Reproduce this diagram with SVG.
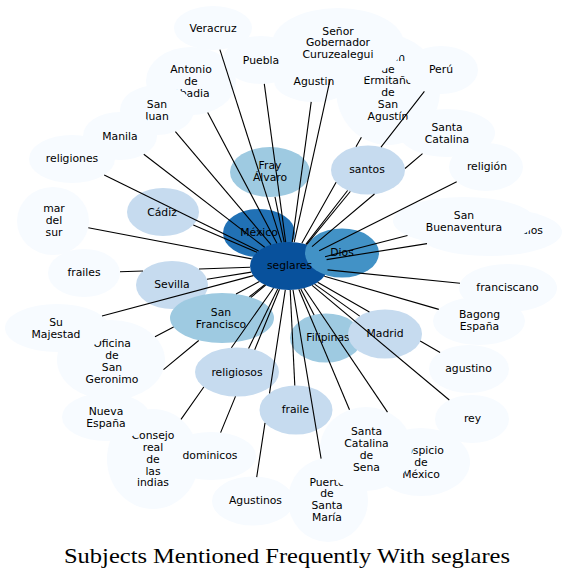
<svg xmlns="http://www.w3.org/2000/svg" width="566" height="578" viewBox="0 0 566 578">
<style>
.l{fill:#f7fbff}
.b1{fill:#c6dbef}
.b2{fill:#9ecae1}
.b3{fill:#4292c6}
.b4{fill:#2171b5}
.b5{fill:#08519c}
text{font-family:"DejaVu Sans","Noto Sans",sans-serif;font-size:10.8px;fill:#000;text-anchor:middle}
.e path{fill:none;stroke:#000;stroke-width:1.1}
.title{font-family:"Liberation Serif","Times New Roman",serif;font-size:22px}
</style>
<rect width="566" height="578" fill="#fff"/>
<g id="nodes">
<g id="n-veracruz"><ellipse class="l" cx="213" cy="28" rx="39" ry="22"/><text x="213" y="31.8">Veracruz</text></g>
<g id="n-puebla"><ellipse class="l" cx="261" cy="60" rx="38" ry="24"/><text x="261" y="63.8">Puebla</text></g>
<g id="n-antonio"><ellipse class="l" cx="191" cy="81" rx="45" ry="34"/><text x="191" y="73"><tspan x="191">Antonio</tspan><tspan x="191" dy="11.8">de</tspan><tspan x="191" dy="11.8">Abadia</tspan></text></g>
<g id="n-ermitano"><ellipse class="l" cx="388" cy="90" rx="52" ry="55"/><text x="388" y="60.8"><tspan x="388">Martín</tspan><tspan x="388" dy="11.8">de</tspan><tspan x="388" dy="11.8">Ermitaño</tspan><tspan x="388" dy="11.8">de</tspan><tspan x="388" dy="11.8">San</tspan><tspan x="388" dy="11.8">Agustín</tspan></text></g>
<g id="n-senor"><ellipse class="l" cx="338" cy="44" rx="66" ry="36"/><text x="338" y="34.5"><tspan x="338">Señor</tspan><tspan x="338" dy="11.8">Gobernador</tspan><tspan x="338" dy="11.8">Curuzealegui</tspan></text></g>
<g id="n-consejo"><ellipse class="l" cx="153" cy="459" rx="46" ry="50"/><text x="153" y="439.2"><tspan x="153">Consejo</tspan><tspan x="153" dy="11.8">real</tspan><tspan x="153" dy="11.8">de</tspan><tspan x="153" dy="11.8">las</tspan><tspan x="153" dy="11.8">indias</tspan></text></g>
<g id="n-puerto"><ellipse class="l" cx="328" cy="500" rx="40" ry="42"/><text x="327" y="485.5"><tspan x="327">Puerto</tspan><tspan x="327" dy="11.8">de</tspan><tspan x="327" dy="11.8">Santa</tspan><tspan x="327" dy="11.8">María</tspan></text></g>
<g id="n-hospicio"><ellipse class="l" cx="421" cy="462" rx="49" ry="34"/><text x="421" y="454"><tspan x="421">Hospicio</tspan><tspan x="421" dy="11.8">de</tspan><tspan x="421" dy="11.8">México</tspan></text></g>
<g id="n-indios"><ellipse class="l" cx="489" cy="232" rx="73" ry="24"/><text x="543" y="233.8" style="text-anchor:end">indios</text></g>
<g id="n-mexico"><ellipse class="b4" cx="259" cy="233" rx="36" ry="24"/><text x="259" y="235.8">México</text></g>
<g id="n-fray"><ellipse class="b2" cx="270" cy="172" rx="40" ry="25"/><text x="270" y="168.9"><tspan x="270">Fray</tspan><tspan x="270" dy="11.8">Álvaro</tspan></text></g>
<g id="n-seglares"><ellipse class="b5" cx="289" cy="266" rx="39" ry="24"/></g>
<g id="n-dios"><ellipse class="b3" cx="342" cy="253" rx="37" ry="24.5"/><text x="342" y="255.8">Dios</text></g>
<g id="n-seglares-label"><text x="289.5" y="268.8">seglares</text></g>
<g id="n-agustin"><ellipse class="l" cx="314" cy="81" rx="40" ry="21"/><text x="314" y="84.8">Agustin</text></g>
<g id="n-sanjuan"><ellipse class="l" cx="157" cy="110" rx="37" ry="25"/><text x="157" y="107.9"><tspan x="157">San</tspan><tspan x="157" dy="11.8">Juan</tspan></text></g>
<g id="n-manila"><ellipse class="l" cx="120" cy="136" rx="37" ry="24"/><text x="120" y="139.8">Manila</text></g>
<g id="n-cadiz"><ellipse class="b1" cx="163" cy="212" rx="36" ry="24"/><text x="162" y="215.8">Cádiz</text></g>
<g id="n-religiones"><ellipse class="l" cx="72" cy="159" rx="43" ry="24"/><text x="72" y="161.8">religiones</text></g>
<g id="n-mardelsur"><ellipse class="l" cx="53" cy="221" rx="36" ry="34"/><text x="54" y="212"><tspan x="54">mar</tspan><tspan x="54" dy="11.8">del</tspan><tspan x="54" dy="11.8">sur</tspan></text></g>
<g id="n-frailes"><ellipse class="l" cx="84" cy="273" rx="36" ry="24"/><text x="84" y="275.8">frailes</text></g>
<g id="n-sevilla"><ellipse class="b1" cx="172" cy="285" rx="36" ry="24"/><text x="172" y="287.8">Sevilla</text></g>
<g id="n-nuevaespana"><ellipse class="l" cx="106" cy="417" rx="44" ry="24"/><text x="106" y="414.9"><tspan x="106">Nueva</tspan><tspan x="106" dy="11.8">España</tspan></text></g>
<g id="n-oficina"><ellipse class="l" cx="111" cy="360" rx="54" ry="40"/><text x="112" y="347.1"><tspan x="112">Oficina</tspan><tspan x="112" dy="11.8">de</tspan><tspan x="112" dy="11.8">San</tspan><tspan x="112" dy="11.8">Geronimo</tspan></text></g>
<g id="n-sanfrancisco"><ellipse class="b2" cx="222" cy="318" rx="52" ry="25"/><text x="221" y="315.9"><tspan x="221">San</tspan><tspan x="221" dy="11.8">Francisco</tspan></text></g>
<g id="n-sumajestad"><ellipse class="l" cx="57" cy="328" rx="52" ry="24"/><text x="56" y="325.9"><tspan x="56">Su</tspan><tspan x="56" dy="11.8">Majestad</tspan></text></g>
<g id="n-dominicos"><ellipse class="l" cx="211" cy="456" rx="45" ry="24"/><text x="210" y="458.8">dominicos</text></g>
<g id="n-religiosos"><ellipse class="b1" cx="237" cy="372" rx="42" ry="24.5"/><text x="237" y="375.8">religiosos</text></g>
<g id="n-agustinos"><ellipse class="l" cx="253" cy="501" rx="41" ry="24.5"/><text x="255.5" y="503.8">Agustinos</text></g>
<g id="n-fraile"><ellipse class="b1" cx="296" cy="410" rx="36.5" ry="24.5"/><text x="295.5" y="412.8">fraile</text></g>
<g id="n-filipinas"><ellipse class="b2" cx="326" cy="338" rx="36" ry="24.5"/><text x="328" y="340.8">Filipinas</text></g>
<g id="n-sena"><ellipse class="l" cx="366" cy="449" rx="46" ry="42"/><text x="366.5" y="435.1"><tspan x="366.5">Santa</tspan><tspan x="366.5" dy="11.8">Catalina</tspan><tspan x="366.5" dy="11.8">de</tspan><tspan x="366.5" dy="11.8">Sena</tspan></text></g>
<g id="n-agustino"><ellipse class="l" cx="469" cy="369" rx="40" ry="24"/><text x="468.5" y="371.8">agustino</text></g>
<g id="n-madrid"><ellipse class="b1" cx="385" cy="334" rx="37" ry="24.5"/><text x="385" y="336.8">Madrid</text></g>
<g id="n-rey"><ellipse class="l" cx="472" cy="419" rx="37" ry="24"/><text x="472.5" y="421.8">rey</text></g>
<g id="n-franciscano"><ellipse class="l" cx="508" cy="288" rx="49" ry="24"/><text x="507.5" y="290.8">franciscano</text></g>
<g id="n-bagong"><ellipse class="l" cx="479" cy="321" rx="46" ry="24"/><text x="479.5" y="317.9"><tspan x="479.5">Bagong</tspan><tspan x="479.5" dy="11.8">España</tspan></text></g>
<g id="n-sanbuenaventura"><ellipse class="l" cx="464" cy="221" rx="71" ry="24"/><text x="464" y="218.9"><tspan x="464">San</tspan><tspan x="464" dy="11.8">Buenaventura</tspan></text></g>
<g id="n-religion"><ellipse class="l" cx="486" cy="167" rx="37" ry="24"/><text x="487" y="169.8">religión</text></g>
<g id="n-peru"><ellipse class="l" cx="441" cy="70" rx="37" ry="24"/><text x="441" y="73">Perú</text></g>
<g id="n-santacatalina"><ellipse class="l" cx="447" cy="133" rx="48" ry="24"/><text x="447" y="130.9"><tspan x="447">Santa</tspan><tspan x="447" dy="11.8">Catalina</tspan></text></g>
<g id="n-santos"><ellipse class="b1" cx="368" cy="170" rx="37" ry="24.5"/><text x="367" y="172.8">santos</text></g>
</g>
<g id="connectors" class="e">
<path d="M281.5,242.4L219.9,49.7"/>
<path d="M285.7,242.1L264.3,83.9"/>
<path d="M294.2,242.2L330.1,79.7"/>
<path d="M292.2,242.1L311.2,101.9"/>
<path d="M301.8,243.3L336.1,182.3M356,146.8L361.4,137.3"/>
<path d="M305.8,244.3L347.6,190.5M381,147.2L424.4,91.4"/>
<path d="M276.9,243.2L207.7,112.6"/>
<path d="M271,244.7L175.4,131.7"/>
<path d="M264.7,247.3L143.8,154.3"/>
<path d="M258.6,251L104.2,174.9"/>
<path d="M251.7,258.9L88.3,227.7"/>
<path d="M250,267.3L199,269M143,271L120,271.8"/>
<path d="M253.3,275.6L102,316"/>
<path d="M259.4,281.6L236,294M173.6,327L155,336.8"/>
<path d="M265.7,285.2L251,297.3M198.7,340.5L163.5,369.6"/>
<path d="M273.5,288L231.4,347.8M203.8,387L181,419.4"/>
<path d="M279.5,289.3L254.7,349.8M235.5,396.4L220.6,432.6"/>
<path d="M285.3,289.9L269.5,393.3M265,422.9L256.7,477.1"/>
<path d="M293,289.9L321.1,458.6"/>
<path d="M298.8,289.2L349.5,409.8"/>
<path d="M303.9,288.2L387.5,412.1"/>
<path d="M312.1,285.3L449.3,400"/>
<path d="M317.6,282.3L369.4,311.9M420.2,341L440.1,352.4"/>
<path d="M324.3,276.2L438.8,309.4"/>
<path d="M327.5,269.9L460,283.2"/>
<path d="M326.6,259.6L427,243.6"/>
<path d="M325,256.7L407.5,235.5"/>
<path d="M319.2,250.8L456.7,181.7"/>
<path d="M312,246.6L374.5,194M405,168.5L422.5,153.6"/>
<path d="M284.2,242.2L275,196.8"/>
<path d="M306.6,244.6L350.3,191.5"/>
<path d="M257,252.3L193.3,225"/>
<path d="M251.3,272.1L207,279.3"/>
<path d="M264.8,284.8L249.4,296.7"/>
<path d="M300.8,288.9L314.1,314.9"/>
<path d="M314.6,284.1L359.7,316.1"/>
<path d="M277.7,289L248.6,348.5"/>
<path d="M290.2,290L294.8,385.5"/>
</g>
<text class="title" x="287" y="563" textLength="446" lengthAdjust="spacingAndGlyphs">Subjects Mentioned Frequently With seglares</text>
</svg>
